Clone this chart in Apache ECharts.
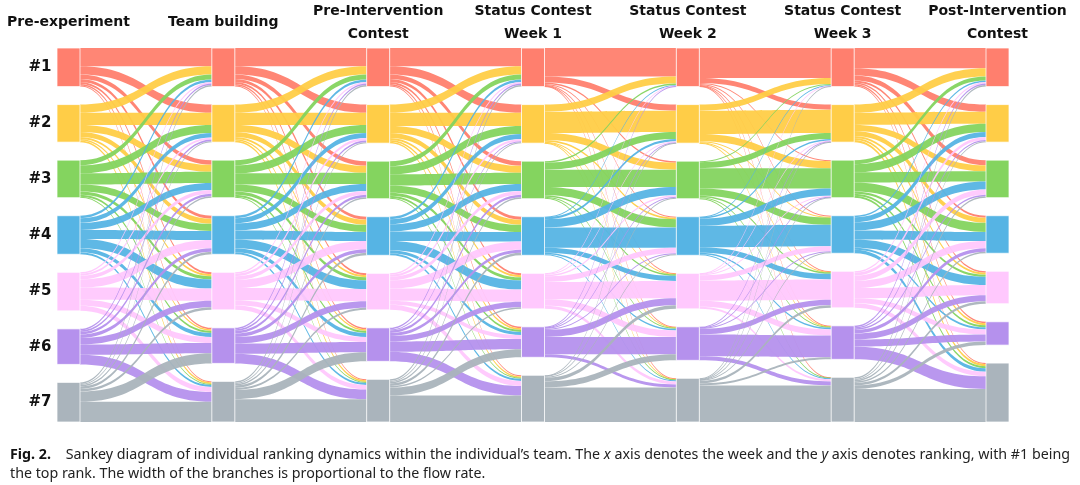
<!DOCTYPE html>
<html><head><meta charset="utf-8">
<script src="https://cdn.jsdelivr.net/npm/echarts@6/dist/echarts.min.js"></script>
<style>html,body{margin:0;padding:0;background:#fff}#c{width:1080px;height:485px}</style>
</head><body><div id="c"></div>
<script>
// ---- data ----
const stages = ['Pre-experiment', 'Team building', 'Pre-Intervention\nContest', 'Status Contest\nWeek 1', 'Status Contest\nWeek 2', 'Status Contest\nWeek 3', 'Post-Intervention\nContest'];
const ranks = ['#1', '#2', '#3', '#4', '#5', '#6', '#7'];
const rankColors = ['#FF7F6E', '#FFCD47', '#84D45F', '#56B4E4', '#FFC8FD', '#B591ED', '#AAB4BC'];

// flow matrices: rows = rank at earlier stage, columns = rank at next stage
const preToTeam = [
  [18, 8, 4.5, 3, 2, 1.5, 1],
  [8, 12, 7, 5, 2, 1.5, 1.5],
  [5, 8, 11, 7, 3, 2, 1],
  [2.5, 4.5, 7, 9, 9, 4, 2],
  [1.5, 2, 3.5, 8, 12, 6, 5],
  [1.5, 1.5, 2.5, 3.5, 6.5, 10, 9.5],
  [1.5, 1, 1.5, 2.5, 2.5, 10, 20]
];
const teamToPreInt = [
  [18, 8, 4.5, 3, 2, 1.5, 1],
  [8, 12, 7, 5, 2, 1.5, 1.5],
  [5, 8, 11, 7, 3, 2, 1],
  [2.5, 5, 7, 9, 8.5, 4, 2],
  [1.5, 2.5, 3.5, 8, 12, 5, 4.5],
  [1.5, 1.5, 2.5, 3.5, 6.5, 10, 9.5],
  [1.5, 1, 1.5, 2.5, 2, 9, 22.5]
];
const preIntToWeek1 = [
  [18, 8, 4.5, 3, 2, 1.5, 1],
  [8, 13, 7, 5, 2, 1.5, 1.5],
  [5, 8, 11, 7, 3, 2, 1],
  [2.5, 5, 7, 9.5, 9, 3, 2],
  [1.5, 2, 3.5, 8, 12, 4, 5],
  [1.5, 1, 2.5, 3, 5.5, 10, 9.5],
  [1.5, 1, 1.5, 2.5, 1.5, 8, 26]
];
const week1ToWeek2 = [
  [28, 6, 1.5, 1, 0.5, 0.5, 0.5],
  [7, 21, 7, 1.5, 0.5, 0.5, 0.5],
  [1.5, 7, 17, 8, 1.5, 1, 1],
  [0.5, 2, 8, 20, 5, 1.5, 1],
  [0.5, 1, 1.5, 5.5, 17, 6.5, 3],
  [0.5, 0.5, 1, 1, 7, 17, 3],
  [0, 0.5, 1, 1, 3.5, 6, 34]
];
const week2ToWeek3 = [
  [29.5, 5, 1, 1, 0.5, 0.5, 0.5],
  [6, 23, 7, 1, 0.5, 0.5, 0],
  [1, 6, 20, 7, 1.5, 1, 0.5],
  [0.5, 1.5, 7, 21, 5.5, 1.5, 1],
  [0.5, 0.5, 1, 5, 20, 6, 2],
  [0, 0.5, 0.5, 1, 5.5, 21.5, 4],
  [0.5, 0.5, 0.5, 1, 2.5, 2, 36]
];
const week3ToPost = [
  [20, 7, 5, 2, 1.5, 1.5, 1],
  [8, 12, 6, 5, 2, 2, 2],
  [4, 8, 10, 9, 2, 2, 2],
  [1.5, 5, 8, 9, 8, 2, 3.5],
  [1.5, 3, 5, 7, 10, 5, 4.5],
  [1.5, 1, 1.5, 3.5, 6, 7, 12.5],
  [1.5, 1, 1.5, 1.5, 2.5, 3.5, 32.5]
];
const transitions = [preToTeam, teamToPreInt, preIntToWeek1, week1ToWeek2, week2ToWeek3, week3ToPost];
const captionLine1 = ['Fig. 2.', 'Sankey diagram of individual ranking dynamics within the individual\u2019s team. The ', 'x', ' axis denotes the week and the ', 'y', ' axis denotes ranking, with #1 being'];
const captionLine2 = 'the top rank. The width of the branches is proportional to the flow rate.';

// ---- build ----
const nodes = [];
stages.forEach((s, si) => ranks.forEach((r, ri) => nodes.push({
  name: 's' + si + 'r' + ri,
  itemStyle: { color: rankColors[ri] },
  label: { show: si === 0, formatter: r }
})));
const links = [];
transitions.forEach((m, ti) => m.forEach((row, i) => row.forEach((v, j) => {
  if (v > 0) links.push({ source: 's' + ti + 'r' + i, target: 's' + (ti + 1) + 'r' + j, value: v });
})));

const L = 57, R = 71, NW = 23, W = 1080;
const step = (W - L - R - NW) / (stages.length - 1);
const headerFont = 'bold 14px "DejaVu Sans"';
const graphics = stages.map((s, i) => ({
  type: 'text', x: L + NW / 2 + i * step, y: 22.5, silent: true,
  style: { text: s, font: headerFont, fill: '#111', align: 'center', verticalAlign: 'middle', lineHeight: 23 }
}));

// caption
const ctx = document.createElement('canvas').getContext('2d');
const capFamily = '"Noto Sans", "Open Sans", sans-serif';
const capSize = 15;
function mw(font, s) { ctx.font = font; return ctx.measureText(s).width; }
const gapTxt = '    ';
const w1 = mw('bold ' + capSize + 'px ' + capFamily, captionLine1[0]) +
  mw(capSize + 'px ' + capFamily, gapTxt + captionLine1[1] + captionLine1[3] + captionLine1[5]) +
  mw('italic ' + capSize + 'px ' + capFamily, captionLine1[2] + captionLine1[4]);
const sx = 1060 / w1;
graphics.push({
  type: 'text', x: 10, y: 455, scaleX: sx, silent: true,
  style: {
    text: '{b|' + captionLine1[0] + '}' + gapTxt + captionLine1[1] + '{i|' + captionLine1[2] + '}' + captionLine1[3] + '{i|' + captionLine1[4] + '}' + captionLine1[5],
    fontFamily: capFamily, fontSize: capSize, fill: '#222', verticalAlign: 'middle',
    rich: { b: { fontWeight: 'bold', fontFamily: capFamily, fontSize: capSize, fill: '#111' }, i: { fontStyle: 'italic', fontFamily: capFamily, fontSize: capSize } }
  }
});
graphics.push({
  type: 'text', x: 10, y: 474, scaleX: sx, silent: true,
  style: { text: captionLine2, fontFamily: capFamily, fontSize: capSize, fill: '#222', verticalAlign: 'middle' }
});

const chart = echarts.init(document.getElementById('c'), null, { renderer: 'canvas' });
chart.setOption({
  animation: false,
  graphic: graphics,
  series: [{
    type: 'sankey',
    left: L, right: R, top: 48, bottom: 63,
    nodeWidth: NW, nodeGap: 18,
    layoutIterations: 0, nodeAlign: 'justify', draggable: false, silent: true,
    data: nodes, links: links,
    itemStyle: { borderColor: 'rgba(255,255,255,0.75)', borderWidth: 1 },
    lineStyle: { color: 'source', opacity: 0.95, curveness: 0.5 },
    label: { position: 'left', distance: 5, fontFamily: 'DejaVu Sans', fontWeight: 'bold', fontSize: 15, color: '#111' },
    emphasis: { disabled: true }
  }]
});
</script></body></html>
